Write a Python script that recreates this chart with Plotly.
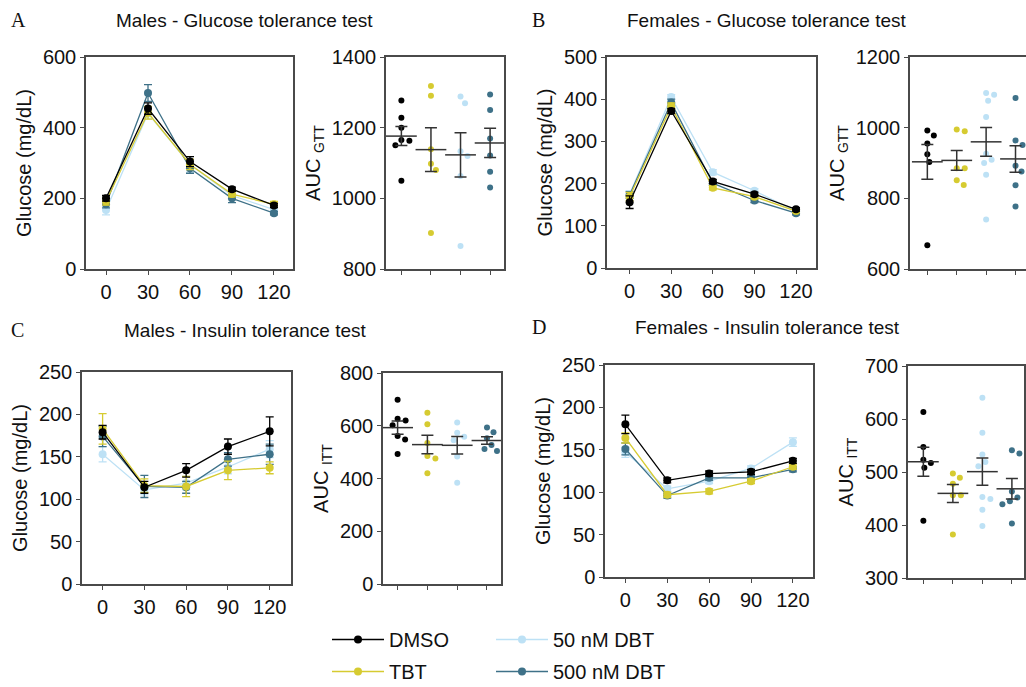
import plotly.graph_objects as go
import numpy as np

W, H = 1026, 687

TIME = [0, 30, 60, 90, 120]
GROUPS = ["DMSO", "TBT", "50 nM DBT", "500 nM DBT"]
COLORS = {"DMSO": "#000000", "TBT": "#d6cb31", "50 nM DBT": "#bde1f5", "500 nM DBT": "#3e7188"}
DRAW_ORDER = ["50 nM DBT", "500 nM DBT", "TBT", "DMSO"]

# ---- Glucose tolerance test, males (mean, SEM) ----
GTT_M_MEAN = {"DMSO": [200, 454, 304, 226, 180], "TBT": [191, 442, 296, 212, 183],
              "50 nM DBT": [167, 440, 296, 208, 168], "500 nM DBT": [183, 498, 285, 200, 158]}
GTT_M_SEM = {"DMSO": [8, 16, 14, 6, 6], "TBT": [10, 18, 15, 8, 8],
             "50 nM DBT": [14, 15, 22, 10, 6], "500 nM DBT": [10, 24, 14, 12, 5]}
# ---- Glucose tolerance test, females ----
GTT_F_MEAN = {"DMSO": [156, 372, 205, 175, 139], "TBT": [169, 383, 190, 169, 135],
              "50 nM DBT": [175, 405, 227, 183, 134], "500 nM DBT": [173, 392, 201, 160, 130]}
GTT_F_SEM = {"DMSO": [15, 6, 5, 5, 4], "TBT": [10, 8, 5, 5, 4],
             "50 nM DBT": [8, 6, 6, 5, 4], "500 nM DBT": [8, 8, 5, 5, 4]}
# ---- Insulin tolerance test, males ----
ITT_M_MEAN = {"DMSO": [179, 114, 134, 162, 180], "TBT": [183, 116, 115, 134, 137],
              "50 nM DBT": [153, 111, 119, 138, 159], "500 nM DBT": [174, 115, 114, 147, 153]}
ITT_M_SEM = {"DMSO": [8, 7, 8, 9, 17], "TBT": [18, 8, 12, 11, 7],
             "50 nM DBT": [9, 6, 8, 8, 10], "500 nM DBT": [12, 13, 7, 8, 12]}
# ---- Insulin tolerance test, females ----
ITT_F_MEAN = {"DMSO": [180, 114, 122, 124, 137], "TBT": [164, 97, 101, 113, 130],
              "50 nM DBT": [147, 104, 113, 128, 159], "500 nM DBT": [151, 96, 117, 117, 127]}
ITT_F_SEM = {"DMSO": [11, 3, 3, 3, 3], "TBT": [6, 3, 3, 3, 3],
             "50 nM DBT": [6, 3, 3, 3, 5], "500 nM DBT": [7, 3, 3, 3, 3]}

# ---- Individual AUC values ----
AUC_GTT_M = {"DMSO": [1277, 1228, 1200, 1165, 1163, 1150, 1050],
             "TBT": [1318, 1290, 1139, 1098, 1080, 902],
             "50 nM DBT": [1288, 1269, 1133, 1120, 1063, 865],
             "500 nM DBT": [1294, 1250, 1169, 1121, 1075, 1031]}
AUC_GTT_F = {"DMSO": [992, 978, 955, 925, 903, 667],
             "TBT": [995, 990, 885, 885, 851, 838],
             "50 nM DBT": [1098, 1093, 1076, 1030, 926, 909, 900, 867, 740],
             "500 nM DBT": [1084, 964, 951, 892, 876, 837, 777]}
AUC_ITT_M = {"DMSO": [699, 627, 620, 602, 561, 548, 493],
             "TBT": [649, 606, 535, 485, 476, 420],
             "50 nM DBT": [612, 573, 558, 545, 483, 384],
             "500 nM DBT": [593, 575, 553, 527, 512, 504]}
AUC_ITT_F = {"DMSO": [613, 547, 523, 517, 508, 408],
             "TBT": [497, 489, 478, 456, 456, 382],
             "50 nM DBT": [640, 574, 533, 519, 511, 453, 449, 429, 398],
             "500 nM DBT": [541, 535, 463, 452, 445, 439, 403]}

FONT = "Arial, Liberation Sans, sans-serif"
SERIF = "Times New Roman, Liberation Serif, serif"
FRAME = "#4a4a4a"
RANK = {"DMSO": 1, "TBT": 2, "50 nM DBT": 3, "500 nM DBT": 4}


def xd(a, b):
    return [a / W, b / W]


def yd(top, bottom):
    return [1 - bottom / H, 1 - top / H]


PANELS = [
    dict(kind="line", xd=(86, 293), yd=(57, 269), xr=[-14.3, 133.6], yr=[0, 600], yt=[0, 200, 400, 600],
         mean=GTT_M_MEAN, sem=GTT_M_SEM, title="Glucose (mg/dL)"),
    dict(kind="auc", xd=(386, 504), yd=(57, 269), xr=[-0.52, 3.47], yr=[800, 1400], yt=[800, 1000, 1200, 1400],
         vals=AUC_GTT_M, title="AUC <sub>GTT</sub>"),
    dict(kind="line", xd=(607, 816), yd=(57, 268), xr=[-16.3, 134.4], yr=[0, 500], yt=[0, 100, 200, 300, 400, 500],
         mean=GTT_F_MEAN, sem=GTT_F_SEM, title="Glucose (mg/dL)"),
    dict(kind="auc", xd=(910, 1026), yd=(57, 269), xr=[-0.59, 3.357], yr=[600, 1200], yt=[600, 800, 1000, 1200],
         vals=AUC_GTT_F, title="AUC <sub>GTT</sub>", noright=True),
    dict(kind="line", xd=(82, 291), yd=(372, 584), xr=[-14.8, 135.3], yr=[0, 250], yt=[0, 50, 100, 150, 200, 250],
         mean=ITT_M_MEAN, sem=ITT_M_SEM, title="Glucose (mg/dL)"),
    dict(kind="auc", xd=(383, 501), yd=(373, 584), xr=[-0.49, 3.47], yr=[0, 800], yt=[0, 200, 400, 600, 800],
         vals=AUC_ITT_M, title="AUC <sub>ITT</sub>"),
    dict(kind="line", xd=(605, 813), yd=(365, 577), xr=[-14.6, 134.4], yr=[0, 250], yt=[0, 50, 100, 150, 200, 250],
         mean=ITT_F_MEAN, sem=ITT_F_SEM, title="Glucose (mg/dL)"),
    dict(kind="auc", xd=(908, 1024), yd=(366, 578), xr=[-0.52, 3.41], yr=[300, 700], yt=[300, 400, 500, 600, 700],
         vals=AUC_ITT_F, title="AUC <sub>ITT</sub>"),
]


def beeswarm(values, px_per_unit_y, px_per_cat, diam=8.0):
    """Return horizontal offsets (category units) so dots do not overlap."""
    order = sorted(range(len(values)), key=lambda i: -values[i])
    placed = []
    offs = [0.0] * len(values)
    cands = [0.0]
    for k in range(1, 60):
        cands += [k * 0.5, -k * 0.5]
    for i in order:
        y = values[i] * px_per_unit_y
        for c in cands:
            ok = True
            for (px, py) in placed:
                if (px - c) ** 2 + (py - y) ** 2 < diam ** 2:
                    ok = False
                    break
            if ok:
                placed.append((c, y))
                offs[i] = c / px_per_cat
                break
    return offs


fig = go.Figure()
layout = {}
first_line = True
for n, p in enumerate(PANELS, start=1):
    xa = "xaxis" if n == 1 else f"xaxis{n}"
    ya = "yaxis" if n == 1 else f"yaxis{n}"
    xref = "x" if n == 1 else f"x{n}"
    yref = "y" if n == 1 else f"y{n}"
    common = dict(showline=True, linecolor=FRAME, linewidth=1.5, showgrid=False, zeroline=False,
                  automargin=False, ticks="outside", ticklen=4, tickcolor=FRAME, tickwidth=1.2,
                  tickfont=dict(family=FONT, size=20, color="#111"))
    layout[xa] = dict(common, domain=xd(*p["xd"]), range=p["xr"], anchor=yref, mirror=True)
    layout[ya] = dict(common, domain=yd(*p["yd"]), range=p["yr"], anchor=xref, tickvals=p["yt"],
                      mirror=not p.get("noright", False),
                      title=dict(text=p["title"], font=dict(family=FONT, size=20, color="#111"), standoff=6))
    if p["kind"] == "line":
        layout[xa]["tickvals"] = TIME
        for g in DRAW_ORDER:
            fig.add_trace(go.Scatter(
                x=TIME, y=p["mean"][g], mode="lines+markers", name=g,
                line=dict(color=COLORS[g], width=1.3),
                marker=dict(color=COLORS[g], size=8),
                error_y=dict(type="data", array=p["sem"][g], color=COLORS[g], thickness=1.3, width=4),
                xaxis=xref, yaxis=yref, cliponaxis=False,
                showlegend=first_line, legendgroup=g, legendrank=RANK[g],
                legend="legend" if g in ("DMSO", "TBT") else "legend2"))
        first_line = False
    else:
        layout[xa].update(tickvals=[0, 1, 2, 3], showticklabels=False)
        ph = p["yd"][1] - p["yd"][0]
        pw = p["xd"][1] - p["xd"][0]
        ppy = ph / (p["yr"][1] - p["yr"][0])
        ppc = pw / (p["xr"][1] - p["xr"][0])
        for i, g in enumerate(GROUPS):
            vals = p["vals"][g]
            offs = beeswarm(vals, ppy, ppc)
            fig.add_trace(go.Scatter(
                x=[i + o for o in offs], y=vals, mode="markers",
                marker=dict(color=COLORS[g], size=6), showlegend=False,
                xaxis=xref, yaxis=yref, cliponaxis=False))
            arr = np.array(vals, dtype=float)
            m = arr.mean()
            s = arr.std(ddof=1) / np.sqrt(len(arr))
            fig.add_trace(go.Scatter(
                x=[i], y=[m], mode="markers", showlegend=False,
                marker=dict(symbol="line-ew", size=22, color="#333", line=dict(color="#333", width=1.5)),
                error_y=dict(type="data", array=[s], color="#333", thickness=1.5, width=6),
                xaxis=xref, yaxis=yref, cliponaxis=False))

annotations = []
TITLES = [("A", 9, 20, "Males - Glucose tolerance test", 114, 20),
          ("B", 530, 20, "Females - Glucose tolerance test", 625, 20),
          ("C", 9, 330, "Males - Insulin tolerance test", 122, 330),
          ("D", 530, 327, "Females - Insulin tolerance test", 633, 327)]
for letter, lx, ly, text, tx, ty in TITLES:
    annotations.append(dict(text=letter, x=lx / W, y=1 - ly / H, xref="paper", yref="paper",
                            xanchor="left", yanchor="middle", showarrow=False,
                            font=dict(family=SERIF, size=20, color="#111")))
    annotations.append(dict(text=text, x=tx / W, y=1 - ty / H, xref="paper", yref="paper",
                            xanchor="left", yanchor="middle", showarrow=False,
                            font=dict(family=FONT, size=19, color="#111")))

legend_common = dict(orientation="v", bgcolor="rgba(0,0,0,0)", borderwidth=0,
                     font=dict(family=FONT, size=20, color="#111"),
                     tracegroupgap=3, itemwidth=52, xanchor="left", yanchor="top")

fig.update_layout(
    template="none",
    width=W, height=H, margin=dict(l=0, r=0, t=0, b=0, autoexpand=False),
    paper_bgcolor="white", plot_bgcolor="white",
    annotations=annotations,
    legend=dict(legend_common, x=327 / W, y=1 - 620 / H, traceorder="grouped"),
    legend2=dict(legend_common, x=491 / W, y=1 - 620 / H, traceorder="grouped"),
    **layout,
)

fig.write_html("out.html", config={"displayModeBar": False},
               post_script="document.body.style.margin='0px';")
